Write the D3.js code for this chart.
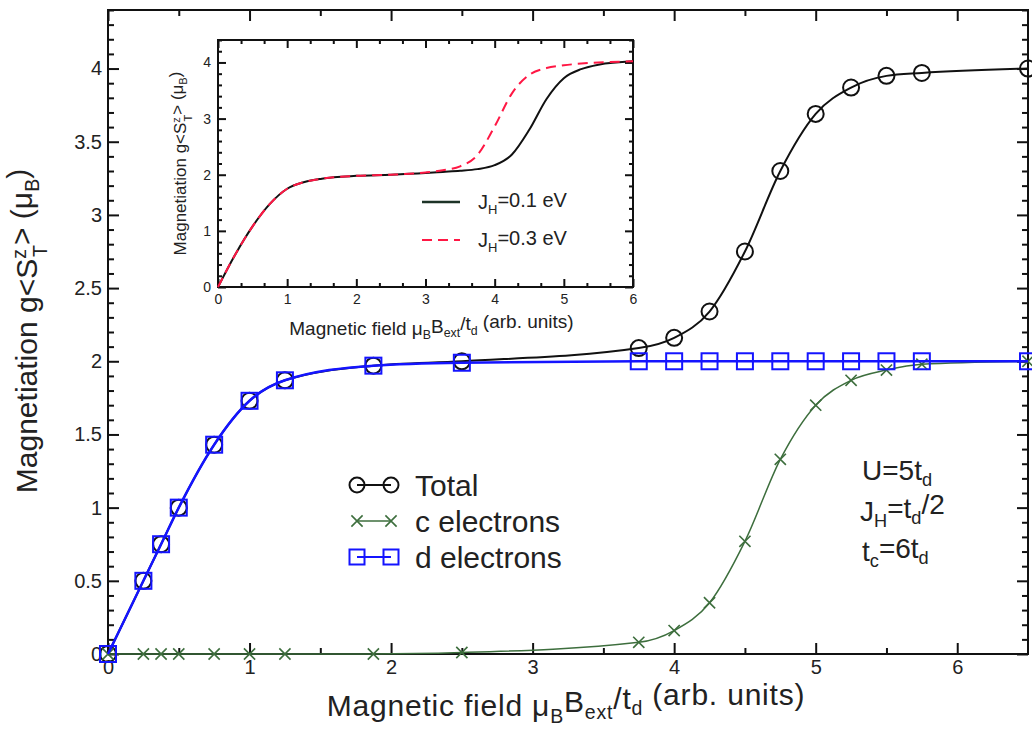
<!DOCTYPE html>
<html lang="en">
<head>
    <meta charset="UTF-8">
    <title>Magnetization</title>
    <script src="https://cdn.jsdelivr.net/npm/d3@7"></script>
    <style>
        html, body {
            margin: 0;
            padding: 0;
            background: #fff;
            overflow: hidden;
        }
        text {
            font-family: 'Liberation Sans', Arial, sans-serif;
            fill: #222;
        }
        .tick line {
            stroke: #111;
            stroke-width: 2px;
        }
        .frame {
            fill: none;
            stroke: #111;
            stroke-width: 2px;
        }
    </style>
</head>
<body>
</body>
<script>
    // main panel data
    const field = [0, 0.25, 0.375, 0.5, 0.75, 1, 1.25, 1.875, 2.5, 3.75, 4, 4.25, 4.5, 4.75, 5, 5.25, 5.5, 5.75, 6.5];
    const totalMag = [0, 0.5, 0.75, 1.0, 1.43, 1.73, 1.87, 1.97, 2.0, 2.09, 2.16, 2.34, 2.75, 3.30, 3.69, 3.87, 3.95, 3.97, 4.0];
    const cMag = [0, 0, 0, 0, 0, 0, 0, 0, 0.01, 0.08, 0.16, 0.35, 0.77, 1.33, 1.70, 1.87, 1.94, 1.98, 2.0];
    const dMag = [0, 0.5, 0.75, 1.0, 1.43, 1.73, 1.87, 1.97, 1.99, 2.0, 2.0, 2.0, 2.0, 2.0, 2.0, 2.0, 2.0, 2.0, 2.0];

    // inset data
    const insetField = [0, 0.25, 0.5, 0.75, 1, 1.25, 1.5, 2, 2.5, 3, 3.25, 3.5, 3.75, 4, 4.25, 4.5, 4.75, 5, 5.25, 5.5, 6];
    const jh01 = [0, 0.58, 1.08, 1.48, 1.75, 1.87, 1.93, 1.98, 2.0, 2.03, 2.05, 2.07, 2.1, 2.17, 2.36, 2.8, 3.35, 3.72, 3.88, 3.96, 4.02];
    const jh03 = [0, 0.58, 1.08, 1.48, 1.75, 1.87, 1.93, 1.98, 2.0, 2.04, 2.08, 2.15, 2.35, 2.86, 3.45, 3.78, 3.9, 3.95, 3.98, 4.0, 4.02];

    const xTicks = [0, 1, 2, 3, 4, 5, 6];
    const yTicks = [0, 0.5, 1, 1.5, 2, 2.5, 3, 3.5, 4];
    const insetXTicks = [0, 1, 2, 3, 4, 5, 6];
    const insetYTicks = [0, 1, 2, 3, 4];

    const seriesStyle = [
        {name: 'Total', values: totalMag, color: '#111', marker: 'circle', width: 2},
        {name: 'c electrons', values: cMag, color: '#3d6e3d', marker: 'cross', width: 1.5},
        {name: 'd electrons', values: dMag, color: '#1414ff', marker: 'square', width: 2.5}
    ];

    let width = 1032;
    let height = 729;

    let svg = d3.select('body').append('svg')
        .attr('width', width)
        .attr('height', height);

    // --- helpers ---
    function drawFrameAxes(g, x, y, w, h, o) {
        let minorX = o.minorX, minorY = o.minorY;

        g.append('g').attr('transform', `translate(0,${h})`)
            .call(d3.axisBottom(x).tickValues(o.xTicks).tickSize(-o.major).tickPadding(o.pad).tickFormat(d3.format('~g')))
            .call(a => a.selectAll('text').style('font-size', o.font + 'px'));
        g.append('g').attr('transform', `translate(0,${h})`)
            .call(d3.axisBottom(x).tickValues(minorX).tickSize(-o.minor).tickFormat(''));
        g.append('g')
            .call(d3.axisTop(x).tickValues(o.xTicks).tickSize(-o.major).tickFormat(''));
        g.append('g')
            .call(d3.axisTop(x).tickValues(minorX).tickSize(-o.minor).tickFormat(''));

        g.append('g')
            .call(d3.axisLeft(y).tickValues(o.yTicks).tickSize(-o.major).tickPadding(o.pad).tickFormat(d3.format('~g')))
            .call(a => a.selectAll('text').style('font-size', o.font + 'px'));
        g.append('g')
            .call(d3.axisLeft(y).tickValues(minorY).tickSize(-o.minor).tickFormat(''));
        g.append('g').attr('transform', `translate(${w},0)`)
            .call(d3.axisRight(y).tickValues(o.yTicks).tickSize(-o.major).tickFormat(''));
        g.append('g').attr('transform', `translate(${w},0)`)
            .call(d3.axisRight(y).tickValues(minorY).tickSize(-o.minor).tickFormat(''));

        g.selectAll('.domain').remove();
        g.append('rect').classed('frame', true).attr('width', w).attr('height', h);
    }

    function drawMarker(sel, type, color, size) {
        if (type === 'circle') {
            sel.append('circle').attr('r', size / 2)
                .attr('fill', 'none').attr('stroke', color).attr('stroke-width', 2);
        } else if (type === 'square') {
            sel.append('rect')
                .attr('x', -size / 2).attr('y', -size / 2)
                .attr('width', size).attr('height', size)
                .attr('fill', 'none').attr('stroke', color).attr('stroke-width', 2);
        } else {
            let s = size * 0.4;
            sel.append('path')
                .attr('d', `M${-s},${-s}L${s},${s}M${-s},${s}L${s},${-s}`)
                .attr('stroke', color).attr('stroke-width', 1.6);
        }
    }

    // axis titles with sub/superscripts
    function magTitle(t) {
        t.append('tspan').text('Magnetiation g<S');
        t.append('tspan').text('z').attr('dy', '-0.55em').style('font-size', '65%');
        t.append('tspan').text('T').attr('dx', '-0.4em').attr('dy', '1.05em').style('font-size', '65%');
        t.append('tspan').text('> (μ').attr('dy', '-0.5em');
        t.append('tspan').text('B').attr('dy', '0.35em').style('font-size', '65%');
        t.append('tspan').text(')').attr('dy', '-0.35em');
    }

    function fieldTitle(t) {
        t.append('tspan').text('Magnetic field μ');
        t.append('tspan').text('B').attr('dy', '0.35em').style('font-size', '65%');
        t.append('tspan').text('B').attr('dy', '-0.35em');
        t.append('tspan').text('ext').attr('dy', '0.35em').style('font-size', '65%');
        t.append('tspan').text('/t').attr('dy', '-0.35em');
        t.append('tspan').text('d').attr('dy', '0.35em').style('font-size', '65%');
        t.append('tspan').text(' (arb. units)').attr('dy', '-0.35em');
    }

    // --- main panel ---
    let margin = {left: 108, top: 10, right: 4, bottom: 75};
    let w = width - margin.left - margin.right;
    let h = height - margin.top - margin.bottom;

    let x = d3.scaleLinear().domain([0, 6.5]).range([0, w]);
    let y = d3.scaleLinear().domain([0, 4.4]).range([h, 0]);

    let main = svg.append('g').attr('transform', `translate(${margin.left},${margin.top})`);

    drawFrameAxes(main, x, y, w, h, {
        xTicks: xTicks,
        yTicks: yTicks,
        minorX: [0.5, 1.5, 2.5, 3.5, 4.5, 5.5],
        minorY: d3.range(0, 45).filter(i => i % 5 !== 0).map(i => i / 10),
        major: 11, minor: 6, pad: 6, font: 20
    });

    let line = d3.line()
        .x((d, i) => x(field[i]))
        .y(d => y(d))
        .curve(d3.curveMonotoneX);

    seriesStyle.forEach(s => {
        main.append('path')
            .datum(s.values)
            .attr('d', line)
            .attr('fill', 'none')
            .attr('stroke', s.color)
            .attr('stroke-width', s.width);

        main.append('g').selectAll('g')
            .data(s.values).enter()
            .append('g')
            .attr('transform', (d, i) => `translate(${x(field[i])},${y(d)})`)
            .each(function () {
                drawMarker(d3.select(this), s.marker, s.color, s.marker === 'cross' ? 14 : 16);
            });
    });

    // legend
    let legend = main.append('g').attr('transform', 'translate(249,475)');
    seriesStyle.forEach((s, i) => {
        let row = legend.append('g').attr('transform', `translate(0,${i * 36})`);
        row.append('line').attr('x1', 0).attr('x2', 34)
            .attr('stroke', s.color).attr('stroke-width', s.width === 1.5 ? 1.5 : 2);
        [0, 34].forEach(px => {
            drawMarker(row.append('g').attr('transform', `translate(${px},0)`), s.marker, s.color, s.marker === 'cross' ? 14 : 15);
        });
        row.append('text').attr('x', 58).attr('y', 11).style('font-size', '30px').text(s.name);
    });

    // parameter annotation
    let note = main.append('g').style('font-size', '28px');
    let n1 = note.append('text').attr('x', 754).attr('y', 470);
    n1.append('tspan').text('U=5t');
    n1.append('tspan').text('d').attr('dy', '0.35em').style('font-size', '65%');
    let n2 = note.append('text').attr('x', 752).attr('y', 511);
    n2.append('tspan').text('J');
    n2.append('tspan').text('H').attr('dy', '0.35em').style('font-size', '65%');
    n2.append('tspan').text('=t').attr('dy', '-0.35em');
    n2.append('tspan').text('d').attr('dy', '0.35em').style('font-size', '65%');
    n2.append('tspan').text('/2').attr('dy', '-0.35em');
    let n3 = note.append('text').attr('x', 754).attr('y', 551);
    n3.append('tspan').text('t');
    n3.append('tspan').text('c').attr('dy', '0.35em').style('font-size', '65%');
    n3.append('tspan').text('=6t').attr('dy', '-0.35em');
    n3.append('tspan').text('d').attr('dy', '0.35em').style('font-size', '65%');

    // axis titles
    let xt = svg.append('text')
        .attr('x', 566).attr('y', 716)
        .attr('text-anchor', 'middle')
        .style('font-size', '30px')
        .style('letter-spacing', '0.8px');
    fieldTitle(xt);

    let yt = svg.append('text')
        .attr('transform', 'translate(37,331) rotate(-90)')
        .attr('text-anchor', 'middle')
        .style('font-size', '30px');
    magTitle(yt);

    // --- inset ---
    let ix0 = 218, iy0 = 40, iw = 415, ih = 247;
    let ix = d3.scaleLinear().domain([0, 6]).range([0, iw]);
    let iy = d3.scaleLinear().domain([0, 4.4]).range([ih, 0]);

    let inset = svg.append('g').attr('transform', `translate(${ix0},${iy0})`);
    inset.append('rect').attr('width', iw).attr('height', ih).attr('fill', '#fff');

    drawFrameAxes(inset, ix, iy, iw, ih, {
        xTicks: insetXTicks,
        yTicks: insetYTicks,
        minorX: d3.range(0, 19).filter(i => i % 3 !== 0).map(i => i / 3),
        minorY: d3.range(0, 23).filter(i => i % 5 !== 0).map(i => i / 5),
        major: 8, minor: 4, pad: 7, font: 14
    });

    let iline = d3.line()
        .x((d, i) => ix(insetField[i]))
        .y(d => iy(d))
        .curve(d3.curveMonotoneX);

    inset.append('path').datum(jh01).attr('d', iline)
        .attr('fill', 'none').attr('stroke', '#111').attr('stroke-width', 2);
    inset.append('path').datum(jh03).attr('d', iline)
        .attr('fill', 'none').attr('stroke', '#ff1744').attr('stroke-width', 2)
        .attr('stroke-dasharray', '10,6');

    let ileg = inset.append('g').attr('transform', 'translate(204,162)');
    ileg.append('line').attr('x1', 0).attr('x2', 38).attr('stroke', '#1d3327').attr('stroke-width', 2.5);
    ileg.append('line').attr('x1', 0).attr('x2', 38).attr('y1', 38).attr('y2', 38)
        .attr('stroke', '#ff1744').attr('stroke-width', 2).attr('stroke-dasharray', '10,6');
    [['0.1 eV', 0], ['0.3 eV', 38]].forEach(l => {
        let t = ileg.append('text').attr('x', 56).attr('y', l[1] + 7).style('font-size', '20px');
        t.append('tspan').text('J');
        t.append('tspan').text('H').attr('dy', '0.35em').style('font-size', '65%');
        t.append('tspan').text('=' + l[0]).attr('dy', '-0.35em');
    });

    let ixt = svg.append('text')
        .attr('x', ix0 + iw / 2 + 6).attr('y', 335)
        .attr('text-anchor', 'middle')
        .style('font-size', '19px');
    fieldTitle(ixt);

    let iyt = svg.append('text')
        .attr('transform', `translate(186,${iy0 + ih / 2}) rotate(-90)`)
        .attr('text-anchor', 'middle')
        .style('font-size', '17px');
    magTitle(iyt);
</script>
</html>
